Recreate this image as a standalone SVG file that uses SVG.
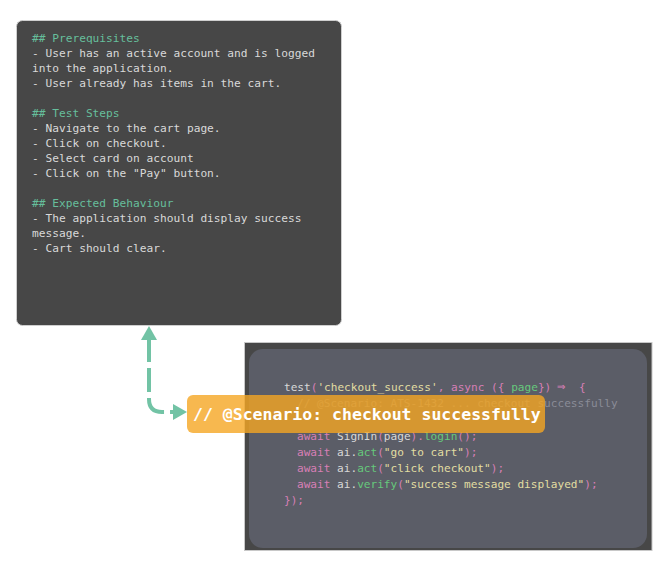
<svg xmlns="http://www.w3.org/2000/svg" width="660" height="578" viewBox="0 0 660 578">
<defs>
<style>
.note{font-family:"DejaVu Sans Mono","Liberation Mono",monospace;font-size:11.2px;fill:#d9d9d9}
.h{fill:#66bf9c}
.code{font-family:"DejaVu Sans Mono","Liberation Mono",monospace;font-size:11.1px;fill:#d8d8d8}
.k{fill:#d77fb6}
.f{fill:#66c97c}
.s{fill:#e2dda2}
.c{fill:#8a8c97}
.lbl{font-family:"DejaVu Sans Mono","Liberation Mono",monospace;font-size:16.5px;font-weight:bold;fill:#ffffff}
.conn{fill:none;stroke:#72c3a5;stroke-width:4;stroke-dasharray:24 6}
</style>
<marker id="ah" markerUnits="userSpaceOnUse" markerWidth="14" markerHeight="16" viewBox="0 0 14 16" refX="2" refY="8" orient="auto-start-reverse">
<path d="M0,0 L14,8 L0,16 Z" fill="#72c3a5"/>
</marker>
</defs>
<rect width="660" height="578" fill="#ffffff"/>
<g id="requirements">
<rect x="16.5" y="20.5" width="325" height="305" rx="6" fill="#474747" stroke="#cfcfcf" stroke-width="1"/>
<text class="note" xml:space="preserve"><tspan x="32" y="41.5" class="h">## Prerequisites</tspan><tspan x="32" y="56.5">- User has an active account and is logged</tspan><tspan x="32" y="71.5">into the application.</tspan><tspan x="32" y="86.5">- User already has items in the cart.</tspan><tspan x="32" y="116.5" class="h">## Test Steps</tspan><tspan x="32" y="131.5">- Navigate to the cart page.</tspan><tspan x="32" y="146.5">- Click on checkout.</tspan><tspan x="32" y="161.5">- Select card on account</tspan><tspan x="32" y="176.5">- Click on the "Pay" button.</tspan><tspan x="32" y="206.5" class="h">## Expected Behaviour</tspan><tspan x="32" y="221.5">- The application should display success</tspan><tspan x="32" y="236.5">message.</tspan><tspan x="32" y="251.5">- Cart should clear.</tspan></text>
</g>
<g id="code">
<rect x="244.5" y="342.5" width="407.5" height="208" fill="#474747" stroke="#c8c8c8" stroke-width="1"/>
<rect x="249" y="349" width="398" height="199" rx="14" fill="#5b5d67"/>
<text class="code" xml:space="preserve"><tspan x="284" y="391">test<tspan class="k">(</tspan><tspan class="s">'checkout_success'</tspan><tspan class="k">,</tspan> <tspan class="k">async</tspan> <tspan class="k">({</tspan> <tspan class="f">page</tspan><tspan class="k">})</tspan></tspan><tspan x="557" y="391" class="k" font-size="14">⇒</tspan><tspan x="579" y="391" class="k">{</tspan><tspan x="297" y="407.2" class="c">// @Scenario: ATS-1432 ... checkout successfully</tspan><tspan x="297" y="439.6"><tspan class="k">await</tspan> SignIn<tspan class="k">(</tspan>page<tspan class="k">).</tspan><tspan class="f">login</tspan><tspan class="k">();</tspan></tspan><tspan x="297" y="455.8"><tspan class="k">await</tspan> ai.<tspan class="f">act</tspan><tspan class="k">(</tspan><tspan class="s">"go to cart"</tspan><tspan class="k">);</tspan></tspan><tspan x="297" y="472"><tspan class="k">await</tspan> ai.<tspan class="f">act</tspan><tspan class="k">(</tspan><tspan class="s">"click checkout"</tspan><tspan class="k">);</tspan></tspan><tspan x="297" y="488.2"><tspan class="k">await</tspan> ai.<tspan class="f">verify</tspan><tspan class="k">(</tspan><tspan class="s">"success message displayed"</tspan><tspan class="k">);</tspan></tspan><tspan x="284" y="504.4" class="k">});</tspan></text>
</g>
<g id="connectors">
<path class="conn" d="M149,338 V399 Q149,412 162,412 H175" marker-start="url(#ah)" marker-end="url(#ah)"/>
</g>
<g id="scenario-label">
<rect x="187" y="395" width="358" height="38" rx="6" fill="#f5a623" fill-opacity="0.8"/>
<text class="lbl" x="193" y="420">// @Scenario: checkout successfully</text>
</g>
</svg>
